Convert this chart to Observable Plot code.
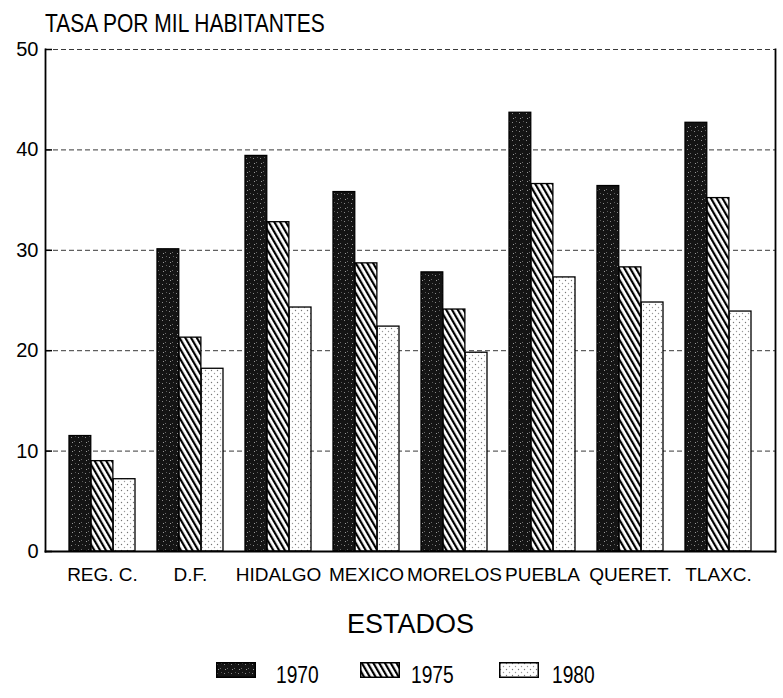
<!DOCTYPE html>
<html>
<head>
<meta charset="utf-8">
<script src="https://cdn.jsdelivr.net/npm/d3@7"></script>
<script src="https://cdn.jsdelivr.net/npm/@observablehq/plot@0.6"></script>
<style>
  html, body { margin: 0; padding: 0; background: #fff; }
  #wrap { position: relative; width: 783px; height: 698px; overflow: hidden; font-family: "Liberation Sans", Arial, sans-serif; color: #000; }
  #title { position: absolute; left: 45px; top: 11px; font-size: 25px; line-height: 25px; white-space: nowrap; transform: scaleX(0.84); transform-origin: 0 0; }
  #chart { position: absolute; left: 0; top: 39px; }
  #legend { position: absolute; left: 0; top: 0; width: 783px; height: 698px; pointer-events: none; }
  .sw { position: absolute; top: 662px; width: 40px; height: 16px; }
  .lab { position: absolute; top: 663px; font-size: 24px; line-height: 24px; transform: scaleX(0.8); transform-origin: 0 0; }
  #chart g[aria-label="x-axis label"] text { font-size: 27px; }
</style>
</head>
<body>
<svg width="0" height="0" style="position:absolute">
  <defs>
    <pattern id="p1970" patternUnits="userSpaceOnUse" width="7" height="9">
      <rect width="7" height="9" fill="#141414"></rect>
      <rect x="1" y="2" width="1" height="1" fill="#8a8a8a"></rect>
      <rect x="4" y="6" width="1" height="1" fill="#6a6a6a"></rect>
      <rect x="5" y="1" width="1" height="1" fill="#5a5a5a"></rect>
      <rect x="2" y="7" width="1" height="1" fill="#9a9a9a"></rect>
    </pattern>
    <pattern id="p1975" patternUnits="userSpaceOnUse" width="5" height="5" patternTransform="rotate(-30)">
      <rect width="5" height="5" fill="#fff"></rect>
      <rect x="0" y="0" width="2.2" height="5" fill="#000"></rect>
    </pattern>
    <pattern id="p1980" patternUnits="userSpaceOnUse" width="6" height="6">
      <rect width="6" height="6" fill="#fff"></rect>
      <circle cx="1.5" cy="1.5" r="0.7" fill="#777"></circle>
      <circle cx="4.5" cy="4.5" r="0.7" fill="#999"></circle>
    </pattern>
  </defs>
</svg>
<div id="wrap">
  <div id="title">TASA POR MIL HABITANTES</div>
  <div id="chart"></div>
  <div id="legend"></div>
</div>
<script>
// ---- data ----
const states = ["REG. C.", "D.F.", "HIDALGO", "MEXICO", "MORELOS", "PUEBLA", "QUERET.", "TLAXC."];
const years = ["1970", "1975", "1980"];
const v1970 = [11.5, 30.1, 39.4, 35.8, 27.8, 43.7, 36.4, 42.7];
const v1975 = [9.0, 21.3, 32.8, 28.7, 24.1, 36.6, 28.3, 35.2];
const v1980 = [7.2, 18.2, 24.3, 22.4, 19.8, 27.3, 24.8, 23.9];
const yTicks = [0, 10, 20, 30, 40, 50];
const gridTicks = [10, 20, 30, 40, 50];

const series = [v1970, v1975, v1980];
const fills = ["url(#p1970)", "url(#p1975)", "url(#p1980)"];

// ---- layout ----
const W = 783, H = 606, mL = 45, mR = 8, mT = 10, mB = 94;
const padIn = 0.25, padOut = 0.25;
const step = (W - mL - mR) / (states.length - padIn + 2 * padOut);
const bw = step * (1 - padIn);
const sub = bw / years.length;

const barMarks = series.map((vals, k) => Plot.barY(
  states.map((s, i) => ({state: s, value: vals[i]})),
  {x: "state", y: "value", fill: fills[k], stroke: "#000", strokeWidth: 1.3,
   insetLeft: k * sub, insetRight: (years.length - 1 - k) * sub}
));

const chart = Plot.plot({
  width: W, height: H,
  marginLeft: mL, marginRight: mR, marginTop: mT, marginBottom: mB,
  style: {fontFamily: "'Liberation Sans', Arial, sans-serif", fontSize: "19px", color: "#000", background: "#fff", overflow: "visible"},
  x: {domain: states, paddingInner: padIn, paddingOuter: padOut},
  y: {domain: [0, 50]},
  marks: [
    Plot.ruleY(gridTicks, {stroke: "#222", strokeWidth: 0.9, strokeDasharray: "5,3"}),
    ...barMarks,
    Plot.frame({anchor: "left", stroke: "#000", strokeWidth: 1.8}),
    Plot.frame({anchor: "right", stroke: "#000", strokeWidth: 1.8}),
    Plot.frame({anchor: "bottom", stroke: "#000", strokeWidth: 1.8}),
    Plot.axisY({ticks: yTicks, tickSize: 7, dx: 7, tickFormat: () => "", label: null, strokeWidth: 1.5}),
    Plot.axisY({ticks: yTicks, tickSize: 0, tickPadding: 7, fontSize: 20, label: null}),
    Plot.axisX({tickSize: 0, tickPadding: 16, fontSize: 19, label: "ESTADOS", labelAnchor: "center", labelOffset: 81})
  ]
});
document.getElementById("chart").appendChild(chart);

// ---- legend ----
const legend = document.getElementById("legend");
const swLeft = [216, 360, 499];
const labLeft = [276, 411, 552];
years.forEach((y, k) => {
  const ns = "http://www.w3.org/2000/svg";
  const sv = document.createElementNS(ns, "svg");
  sv.setAttribute("class", "sw");
  sv.setAttribute("width", "40");
  sv.setAttribute("height", "16");
  sv.style.left = swLeft[k] + "px";
  const r = document.createElementNS(ns, "rect");
  r.setAttribute("x", "0.75"); r.setAttribute("y", "0.75");
  r.setAttribute("width", "38.5"); r.setAttribute("height", "14.5");
  r.setAttribute("fill", fills[k]); r.setAttribute("stroke", "#000"); r.setAttribute("stroke-width", "1.5");
  sv.appendChild(r);
  legend.appendChild(sv);
  const t = document.createElement("div");
  t.className = "lab";
  t.style.left = labLeft[k] + "px";
  t.textContent = y;
  legend.appendChild(t);
});
</script>
</body>
</html>
